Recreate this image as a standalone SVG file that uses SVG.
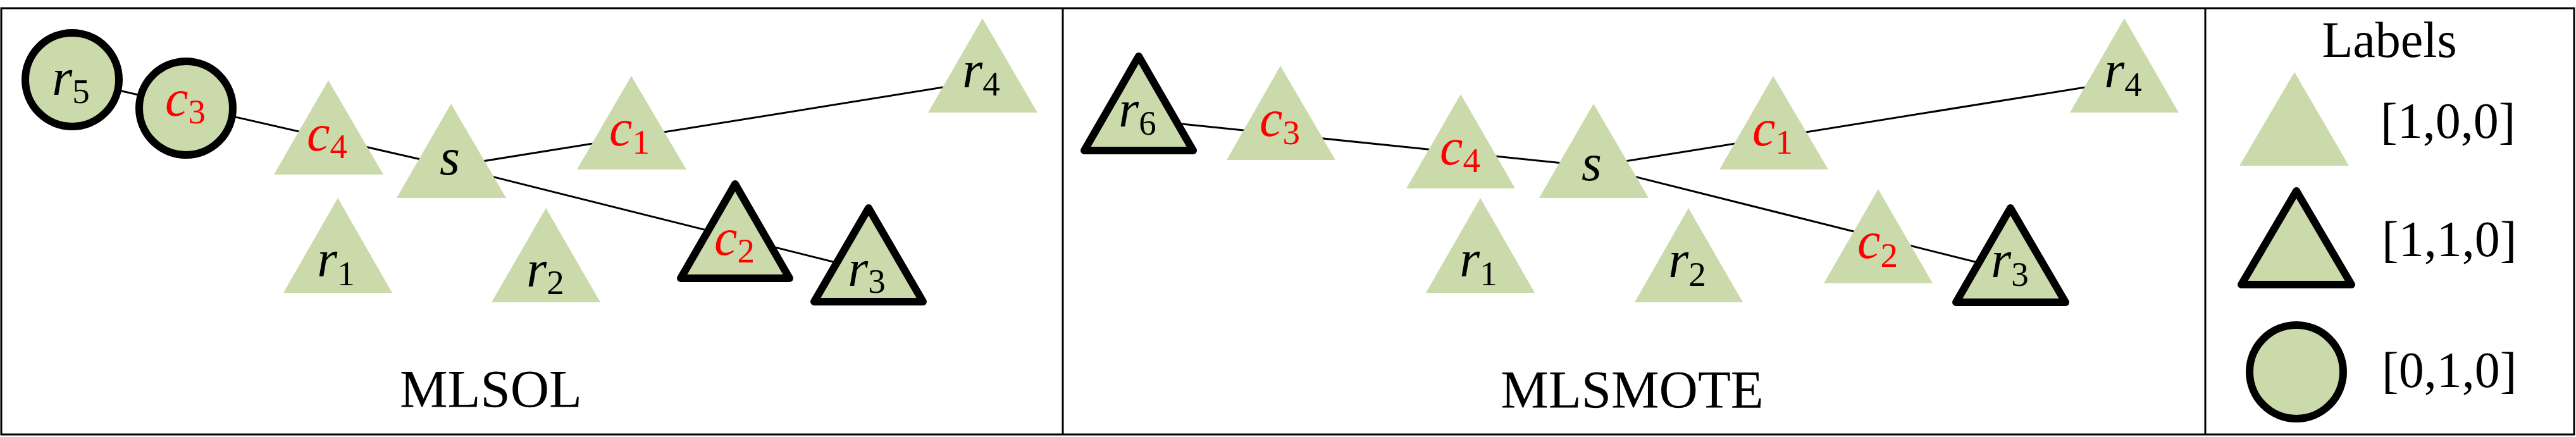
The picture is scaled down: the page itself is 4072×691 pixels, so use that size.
<svg xmlns="http://www.w3.org/2000/svg" width="4072" height="691" viewBox="0 0 4072 691" font-family="Liberation Serif">
<style>
.frame{fill:none;stroke:#000;stroke-width:3}
.tri{fill:#CBDAAA;stroke:none}
.tri.b{stroke:#000;stroke-width:12;stroke-linejoin:round}
.cir{fill:#CBDAAA;stroke:#000;stroke-width:12}
.edge{stroke:#000;stroke-width:3;fill:none}
.lbl{font-size:82px;text-anchor:middle;fill:#000}
.lbl .m{font-style:italic}
.lbl .sub{font-size:55px}
.red{fill:#FF0000}
.title{font-size:85px;text-anchor:middle;fill:#000}
.leg{font-size:80px;fill:#000}
</style>
<rect x="0" y="0" width="4072" height="691" fill="#fff"/>
<g id="frames">
<rect class="frame" x="2" y="13" width="4067" height="674"/>
<line class="frame" x1="1680" y1="13" x2="1680" y2="687"/>
<line class="frame" x1="3486" y1="13" x2="3486" y2="687"/>
</g>
<g id="connectors">
<line class="edge" x1="114" y1="126" x2="713" y2="263"/>
<line class="edge" x1="713" y1="263" x2="1553" y2="128"/>
<line class="edge" x1="713" y1="263" x2="1373" y2="428"/>
<line class="edge" x1="1800" y1="189" x2="2519" y2="263"/>
<line class="edge" x1="2519" y1="263" x2="3358" y2="128"/>
<line class="edge" x1="2519" y1="263" x2="3178" y2="428"/>
</g>
<g id="mlsol" font-family="Liberation Serif">
<g id="mlsol-r5"><circle class="cir" cx="114" cy="126" r="74"/><text class="lbl" x="112" y="150" font-family="Liberation Serif"><tspan class="m">r</tspan><tspan class="sub" dy="13">5</tspan></text></g>
<g id="mlsol-c3"><circle class="cir" cx="294" cy="171" r="74"/><text class="lbl red" x="293" y="183" font-family="Liberation Serif"><tspan class="m">c</tspan><tspan class="sub" dy="12">3</tspan></text></g>
<g id="mlsol-c4"><polygon class="tri" points="519,127 606,276 433,276"/><text class="lbl red" x="517" y="238" font-family="Liberation Serif"><tspan class="m">c</tspan><tspan class="sub" dy="12">4</tspan></text></g>
<g id="mlsol-s"><polygon class="tri" points="713,164 800,313 627,313"/><text class="lbl" x="711" y="276" font-family="Liberation Serif"><tspan class="m">s</tspan></text></g>
<g id="mlsol-c1"><polygon class="tri" points="998,120 1085,268 912,268"/><text class="lbl red" x="995" y="230" font-family="Liberation Serif"><tspan class="m">c</tspan><tspan class="sub" dy="13">1</tspan></text></g>
<g id="mlsol-r4"><polygon class="tri" points="1553,29 1640,178 1467,178"/><text class="lbl" x="1551" y="138" font-family="Liberation Serif"><tspan class="m">r</tspan><tspan class="sub" dy="13">4</tspan></text></g>
<g id="mlsol-c2"><polygon class="tri b" points="1162,291 1248,440 1076,440"/><text class="lbl red" x="1161" y="403" font-family="Liberation Serif"><tspan class="m">c</tspan><tspan class="sub" dy="12">2</tspan></text></g>
<g id="mlsol-r3"><polygon class="tri b" points="1373,329 1459,477 1287,477"/><text class="lbl" x="1370" y="452" font-family="Liberation Serif"><tspan class="m">r</tspan><tspan class="sub" dy="11">3</tspan></text></g>
<g id="mlsol-r1"><polygon class="tri" points="534,313 620,463 448,463"/><text class="lbl" x="531" y="437" font-family="Liberation Serif"><tspan class="m">r</tspan><tspan class="sub" dy="14">1</tspan></text></g>
<g id="mlsol-r2"><polygon class="tri" points="863,329 949,478 777,478"/><text class="lbl" x="862" y="453" font-family="Liberation Serif"><tspan class="m">r</tspan><tspan class="sub" dy="12">2</tspan></text></g>
<text class="title" x="776" y="644" font-family="Liberation Serif">MLSOL</text>
</g>
<g id="mlsmote" font-family="Liberation Serif">
<g id="mlsmote-r6"><polygon class="tri b" points="1800,89 1886,238 1714,238"/><text class="lbl" x="1798" y="200" font-family="Liberation Serif"><tspan class="m">r</tspan><tspan class="sub" dy="13">6</tspan></text></g>
<g id="mlsmote-c3"><polygon class="tri" points="2024,104 2111,253 1939,253"/><text class="lbl red" x="2023" y="215" font-family="Liberation Serif"><tspan class="m">c</tspan><tspan class="sub" dy="13">3</tspan></text></g>
<g id="mlsmote-c4"><polygon class="tri" points="2309,149 2395,298 2223,298"/><text class="lbl red" x="2308" y="260" font-family="Liberation Serif"><tspan class="m">c</tspan><tspan class="sub" dy="12">4</tspan></text></g>
<g id="mlsmote-s"><polygon class="tri" points="2519,164 2606,313 2433,313"/><text class="lbl" x="2516" y="285" font-family="Liberation Serif"><tspan class="m">s</tspan></text></g>
<g id="mlsmote-c1"><polygon class="tri" points="2803,120 2890,268 2718,268"/><text class="lbl red" x="2802" y="230" font-family="Liberation Serif"><tspan class="m">c</tspan><tspan class="sub" dy="13">1</tspan></text></g>
<g id="mlsmote-r4"><polygon class="tri" points="3358,29 3444,178 3272,178"/><text class="lbl" x="3356" y="138" font-family="Liberation Serif"><tspan class="m">r</tspan><tspan class="sub" dy="14">4</tspan></text></g>
<g id="mlsmote-r1"><polygon class="tri" points="2340,313 2426,463 2254,463"/><text class="lbl" x="2337" y="437" font-family="Liberation Serif"><tspan class="m">r</tspan><tspan class="sub" dy="14">1</tspan></text></g>
<g id="mlsmote-r2"><polygon class="tri" points="2669,329 2755,478 2584,478"/><text class="lbl" x="2667" y="438" font-family="Liberation Serif"><tspan class="m">r</tspan><tspan class="sub" dy="14">2</tspan></text></g>
<g id="mlsmote-c2"><polygon class="tri" points="2969,299 3055,448 2883,448"/><text class="lbl red" x="2968" y="408" font-family="Liberation Serif"><tspan class="m">c</tspan><tspan class="sub" dy="14">2</tspan></text></g>
<g id="mlsmote-r3"><polygon class="tri b" points="3178,329 3265,478 3092,478"/><text class="lbl" x="3177" y="438" font-family="Liberation Serif"><tspan class="m">r</tspan><tspan class="sub" dy="14">3</tspan></text></g>
<text class="title" x="2580" y="645" font-family="Liberation Serif">MLSMOTE</text>
</g>
<g id="legend" font-family="Liberation Serif">
<text class="leg" x="3777" y="90" text-anchor="middle" font-family="Liberation Serif">Labels</text>
<g id="leg-100"><polygon class="tri" points="3627,114 3713,262 3540,262"/><text class="leg" x="3763" y="218" font-family="Liberation Serif">[1,0,0]</text></g>
<g id="leg-110"><polygon class="tri b" points="3630,302 3717,450 3543,450"/><text class="leg" x="3765" y="405" font-family="Liberation Serif">[1,1,0]</text></g>
<g id="leg-010"><circle class="cir" cx="3630" cy="588" r="74"/><text class="leg" x="3765" y="612" font-family="Liberation Serif">[0,1,0]</text></g>
</g>
</svg>
